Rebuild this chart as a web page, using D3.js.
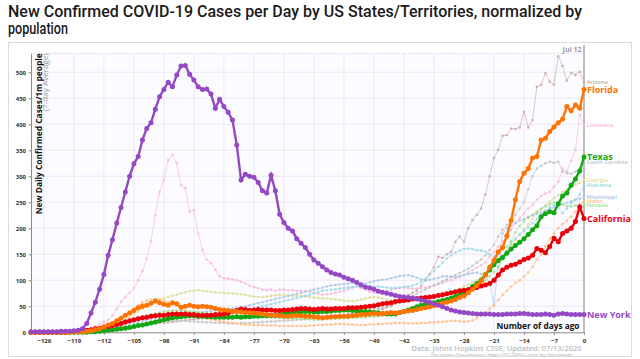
<!DOCTYPE html>
<html>
<head>
<meta charset="utf-8">
<script src="https://cdn.jsdelivr.net/npm/d3@7"></script>
<style>
  body { margin: 0; background: #fff; }
  svg { display: block; font-family: "Open Sans", sans-serif; }
</style>
</head>
<body>
<script>
// daily values, 7-day avg new cases per 1M people; last entry = 0 days ago (Jul 12)
const newYork = [1,1,1,1,1,1,1,2,
  2,2,3,4,7,17,37,58,83,111,148,178,210,240,270,300,324,338,370,392,403,429,453,467,481,472,
  495,512,513,496,485,472,467,468,458,431,448,434,423,408,360,293,304,300,298,288,272,268,302,272,
  227,211,200,195,180,171,163,150,139,133,126,120,115,112,110,106,103,100,96,91,87,85,83,79,77,75,
  73,71,69,68,67,66,64,62,60,58,55,52,49,46,43,41,39,38,37,36,35,35,35,35,34,34,34,35,35,35,36,36,
  35,34,34,34,35,34,33,35,36,35,34,34,34,34];
const florida = [0,0,0,0,0,0,0,0,0,0,1,1,
  1,2,3,5,7,10,14,17,22,27,33,37,42,47,50,52,56,60,57,54,52,57,55,48,50,52,50,49,50,49,48,46,44,43,
  42,40,40,39,38,38,37,36,35,34,33,33,32,31,31,32,33,32,31,31,30,29,28,29,30,30,31,31,31,32,33,34,
  34,35,36,35,36,37,38,37,38,40,41,42,44,46,47,49,51,54,56,58,60,63,67,70,76,83,90,98,110,125,138,
  155,163,185,215,255,290,306,315,335,338,370,373,386,395,403,410,434,426,437,431,467];
const texas = [0,0,0,0,0,0,0,0,0,0,0,0,0,0,
  1,1,2,3,4,5,6,7,8,9,11,13,14,16,18,20,22,24,26,28,29,30,31,32,32,31,31,30,30,29,29,29,29,29,30,
  29,30,30,31,31,32,32,33,33,34,35,36,37,38,39,40,40,39,39,40,40,41,42,42,43,43,42,41,40,40,39,38,
  37,36,35,35,35,38,40,43,46,49,52,54,56,57,59,61,63,66,69,72,76,82,88,94,100,111,120,130,138,144,
  152,160,167,173,180,188,197,205,222,228,232,230,247,262,268,283,295,310,337];
const california = [0,0,0,0,0,0,0,0,0,1,
  1,2,3,4,5,7,8,10,11,13,15,17,20,22,24,26,28,29,31,32,33,33,34,35,35,35,35,34,34,33,33,33,33,34,
  34,35,37,40,42,45,44,42,43,44,43,43,43,42,42,43,43,44,45,46,46,45,44,45,46,45,45,46,46,46,47,47,
  47,48,49,50,51,53,55,56,57,59,60,61,62,64,65,66,67,68,69,71,72,74,76,78,80,81,82,84,86,89,91,94,
  100,110,120,125,129,131,135,140,143,148,161,158,153,165,181,174,190,195,200,213,241,219];
const arizona = [0,0,0,0,0,0,0,0,0,0,0,1,1,1,
  2,2,3,4,5,6,7,8,10,11,12,13,14,15,16,17,18,18,19,20,21,22,23,24,25,26,27,27,27,28,28,29,30,30,31,
  31,31,32,32,32,31,30,30,29,29,30,30,29,28,28,27,27,28,29,30,31,31,32,33,34,35,36,37,38,38,39,40,
  42,45,48,50,55,60,66,72,76,80,90,100,112,125,145,143,150,155,174,184,174,200,216,226,238,265,300,
  335,351,378,379,392,391,394,424,394,408,472,476,498,482,476,531,512,484,499,495,501,482];
const louisiana = [0,0,0,0,0,0,0,0,0,0,1,
  2,4,8,12,17,20,24,32,45,59,68,76,85,100,118,142,175,225,270,293,331,341,325,283,277,232,235,190,
  158,140,133,120,108,104,103,102,100,97,94,90,87,85,82,81,82,80,82,82,81,81,80,80,80,78,76,74,72,
  73,74,76,78,80,83,86,88,85,82,78,76,77,78,80,82,84,85,86,85,84,84,85,86,88,90,92,95,98,100,104,
  106,110,115,120,124,129,135,145,155,165,175,185,197,210,220,228,238,245,255,262,267,270,280,290,
  315,309,330,351,418,399];
const southCarolina = [0,0,0,0,0,0,0,0,0,0,0,0,0,0,0,0,
  1,2,3,4,6,8,10,12,14,16,17,18,19,20,21,21,22,22,22,22,21,21,20,20,19,19,18,18,18,17,17,17,18,18,
  18,19,19,20,20,21,21,22,22,23,23,24,24,25,25,26,26,27,28,29,30,31,32,34,35,37,38,40,42,44,46,48,
  50,52,55,58,62,66,70,74,78,82,86,90,94,98,102,106,110,114,118,122,128,134,140,148,158,168,184,197,
  206,215,226,238,250,275,300,315,320,325,328,326,328,309,306,305,309,315,327];
const georgia = [0,0,0,0,0,0,0,0,0,0,0,0,0,0,
  1,2,3,5,8,12,16,20,25,30,35,40,45,50,55,60,63,66,68,70,72,75,77,79,80,81,80,79,78,77,76,76,75,75,
  74,73,72,70,69,68,68,69,70,71,72,72,71,70,70,70,69,68,67,66,65,65,64,63,62,61,60,60,61,63,65,67,
  68,67,65,63,61,60,59,60,61,62,63,64,66,68,70,72,74,76,78,80,84,88,92,96,100,106,112,120,128,138,
  148,158,168,178,188,198,208,218,228,236,244,252,258,264,270,275,280,284,287,293];
const alabama = [0,0,0,0,0,0,0,0,0,0,0,0,0,0,
  1,2,3,4,5,7,9,11,13,15,17,19,21,23,25,26,27,28,29,30,31,32,33,34,35,36,37,38,39,40,41,42,43,44,
  45,46,48,50,52,54,56,58,60,62,64,66,68,70,72,75,78,80,81,82,83,84,85,86,87,88,89,90,89,88,88,87,
  86,85,85,86,87,88,90,93,97,103,110,118,126,134,142,148,153,157,160,161,160,158,157,155,150,145,
  150,158,165,172,180,188,195,202,210,218,225,232,240,245,240,229,238,248,255,265,283];
const mississippi = [0,0,0,0,0,0,0,0,0,0,0,0,0,0,
  1,2,3,4,6,8,10,12,14,16,18,20,22,24,26,28,29,30,31,32,33,34,35,36,37,38,39,40,41,42,43,44,45,46,
  47,48,50,52,54,56,58,60,62,64,66,68,70,72,74,76,78,80,82,84,86,88,90,91,92,93,94,95,96,95,94,96,
  98,100,101,102,104,106,108,109,110,108,105,102,100,101,103,105,107,108,107,106,108,110,112,114,
  115,112,108,96,52,126,190,200,205,210,215,218,222,225,228,230,234,238,240,243,246,249,252,255,
  257,260];
const idaho = [0,0,0,0,0,0,0,0,0,0,0,0,0,
  1,2,3,5,8,12,16,21,27,33,40,46,52,57,61,63,64,63,61,58,54,50,46,42,38,35,32,29,27,25,23,21,20,19,
  18,17,16,15,15,14,14,14,13,13,13,12,12,12,12,12,12,12,13,13,14,14,15,15,16,16,16,15,15,14,14,14,
  15,15,16,16,17,17,18,18,18,17,17,17,18,18,19,19,20,20,21,22,22,21,20,21,23,27,33,38,45,52,62,72,
  80,88,95,100,107,115,126,140,150,165,180,190,200,208,215,222,232,245,252];
const nevada = [0,0,0,0,0,0,0,0,0,0,0,0,
  1,2,3,4,5,6,7,8,11,14,17,20,23,26,29,32,34,36,38,40,41,42,42,42,41,40,40,39,38,37,36,35,34,33,33,
  32,32,31,31,30,30,30,29,29,28,28,28,27,27,26,26,25,25,25,24,24,24,25,25,26,26,27,27,28,28,29,29,
  30,30,31,32,33,34,35,36,38,40,42,44,46,48,50,52,55,58,61,64,67,70,74,78,83,88,94,100,108,116,125,
  140,155,175,192,205,213,220,226,232,238,242,246,250,248,246,243,242,244,245,245];

const xTickValues = [-126,-119,-112,-105,-98,-91,-84,-77,-70,-63,-56,-49,-42,-35,-28,-21,-14,-7,0];
const yTickValues = [0,50,100,150,200,250,300,350,400,450,500];

const series = [
  { name: "Arizona", values: arizona, color: "#c9a9a2", bold: false },
  { name: "Louisiana", values: louisiana, color: "#f7b6d9", bold: false },
  { name: "South Carolina", values: southCarolina, color: "#c2c2c2", bold: false },
  { name: "Georgia", values: georgia, color: "#dcdc90", bold: false },
  { name: "Alabama", values: alabama, color: "#96d8e6", bold: false },
  { name: "Mississippi", values: mississippi, color: "#a8c6e6", bold: false },
  { name: "Idaho", values: idaho, color: "#ffbb7c", bold: false },
  { name: "Nevada", values: nevada, color: "#9edc8e", bold: false },
  { name: "Texas", values: texas, color: "#13a813", bold: true },
  { name: "California", values: california, color: "#e8000b", bold: true },
  { name: "Florida", values: florida, color: "#ff7300", bold: true },
  { name: "New York", values: newYork, color: "#9548c4", bold: true }
];

const width = 640, height = 359;
const plot = { left: 31, right: 584, top: 53.3, bottom: 332.3 };

const svg = d3.select("body").append("svg")
  .attr("width", width)
  .attr("height", height)
  .attr("viewBox", `0 0 ${width} ${height}`);

// title
const title = svg.append("g").attr("font-family", "Roboto, sans-serif").attr("font-weight", 500)
  .attr("fill", "#1a1a1a").attr("font-size", 16.5);
title.append("text").attr("x", 8).attr("y", 17)
  .attr("textLength", 574).attr("lengthAdjust", "spacingAndGlyphs")
  .text("New Confirmed COVID-19 Cases per Day by US States/Territories, normalized by");
title.append("text").attr("x", 8).attr("y", 34)
  .attr("textLength", 60).attr("lengthAdjust", "spacingAndGlyphs")
  .text("population");

// frame
svg.append("rect")
  .attr("x", 8.5).attr("y", 42.5).attr("width", 623).attr("height", 314)
  .attr("fill", "#fff").attr("stroke", "#dcdcdc");

const x = d3.scaleLinear().domain([-129, 0]).range([plot.left, plot.right]);
const y = d3.scaleLinear().domain([0, 536.5]).range([plot.bottom, plot.top]);

// plot background
svg.append("rect")
  .attr("x", plot.left).attr("y", plot.top)
  .attr("width", plot.right - plot.left).attr("height", plot.bottom - plot.top)
  .attr("fill", "#fcfbff");

// grid
const grid = svg.append("g").attr("stroke", "#e8e3f2").attr("stroke-width", 0.8);
grid.selectAll(".hg").data(yTickValues.slice(1).concat([536.5])).join("line")
  .attr("x1", plot.left).attr("x2", plot.right)
  .attr("y1", d => y(d)).attr("y2", d => y(d));
grid.selectAll(".vg").data(xTickValues.slice(0, -1)).join("line")
  .attr("y1", plot.top).attr("y2", plot.bottom)
  .attr("x1", d => x(d)).attr("x2", d => x(d));

// day 0 marker
svg.append("line")
  .attr("x1", x(0)).attr("x2", x(0)).attr("y1", 45).attr("y2", plot.bottom)
  .attr("stroke", "#bdbdbd").attr("stroke-width", 2);
svg.append("text").attr("x", x(0) - 2.5).attr("y", 51.5)
  .attr("text-anchor", "end").attr("font-size", 7).attr("font-weight", 700)
  .attr("fill", "#9a9a9a").text("Jul 12");

// axes
const xAxis = svg.append("g")
  .attr("transform", `translate(0,${plot.bottom})`)
  .call(d3.axisBottom(x).tickValues(xTickValues).tickSize(2.5).tickSizeOuter(0));
const yAxis = svg.append("g")
  .attr("transform", `translate(${plot.left},0)`)
  .call(d3.axisLeft(y).tickValues(yTickValues).tickSize(2.5).tickSizeOuter(0));
[xAxis, yAxis].forEach(a => {
  a.select(".domain").attr("stroke", "#8a8a8a");
  a.selectAll(".tick line").attr("stroke", "#8a8a8a");
  a.selectAll("text").attr("font-family", "Open Sans, sans-serif")
    .attr("font-size", 6).attr("font-weight", 700).attr("fill", "#333");
});
xAxis.selectAll("text").attr("dy", "0.9em");
yAxis.selectAll("text").attr("x", -5);

// axis titles
svg.append("text")
  .attr("transform", `translate(41.5,${plot.top}) rotate(-90)`)
  .attr("text-anchor", "end").attr("font-size", 8).attr("font-weight", 700).attr("fill", "#111")
  .attr("textLength", 161).attr("lengthAdjust", "spacingAndGlyphs")
  .text("New Daily Confirmed Cases/1m people");
svg.append("text")
  .attr("transform", `translate(47.5,${plot.top}) rotate(-90)`)
  .attr("text-anchor", "end").attr("font-size", 6.3).attr("fill", "#999")
  .attr("textLength", 58).attr("lengthAdjust", "spacingAndGlyphs")
  .text("(7-day Average)");
svg.append("text")
  .attr("x", 579.5).attr("y", 328.5)
  .attr("text-anchor", "end").attr("font-size", 8).attr("font-weight", 700).attr("fill", "#111")
  .attr("textLength", 83).attr("lengthAdjust", "spacingAndGlyphs")
  .text("Number of days ago");

// source notes
svg.append("text")
  .attr("x", 581.5).attr("y", 350.5)
  .attr("text-anchor", "end").attr("font-size", 7).attr("font-weight", 600).attr("fill", "#bdbdbd")
  .attr("textLength", 170).attr("lengthAdjust", "spacingAndGlyphs")
  .text("Data: Johns Hopkins CSSE; Updated: 07/13/2020");
svg.append("text")
  .attr("x", 575).attr("y", 356)
  .attr("text-anchor", "end").attr("font-size", 4.3).attr("fill", "#aaa")
  .attr("textLength", 144).attr("lengthAdjust", "spacingAndGlyphs")
  .text("Interactive Visualization: https://91-DIVOC.com/ by @profwade_");

// lines
const dayOf = (i, arr) => i - (arr.length - 1);
const line = d3.line()
  .x((d, i, arr) => x(dayOf(i, arr)))
  .y(d => y(d));

const lines = svg.append("g");
series.forEach(s => {
  const g = lines.append("g");
  g.append("path")
    .attr("d", line(s.values))
    .attr("fill", "none")
    .attr("stroke", s.color)
    .attr("stroke-width", s.bold ? 2.4 : 0.8)
    .attr("stroke-opacity", s.bold ? 1 : 0.8);
  g.selectAll("circle")
    .data(s.values.map((v, i, arr) => ({ day: dayOf(i, arr), v })))
    .join("circle")
    .attr("cx", d => x(d.day))
    .attr("cy", d => y(d.v))
    .attr("r", s.bold ? 2.5 : 1.3)
    .attr("fill", s.color)
    .attr("opacity", s.bold ? 1 : 0.8);
});

// end labels
const labels = svg.append("g");
series.forEach(s => {
  const last = s.values[s.values.length - 1];
  labels.append("text")
    .attr("x", x(0) + (s.bold ? 3 : 2.5))
    .attr("y", y(last))
    .attr("dy", "0.36em")
    .attr("font-size", s.bold ? 9 : 5.8)
    .attr("font-weight", s.bold ? 700 : 600)
    .attr("fill", s.color)
    .text(s.name);
});
</script>
</body>
</html>
